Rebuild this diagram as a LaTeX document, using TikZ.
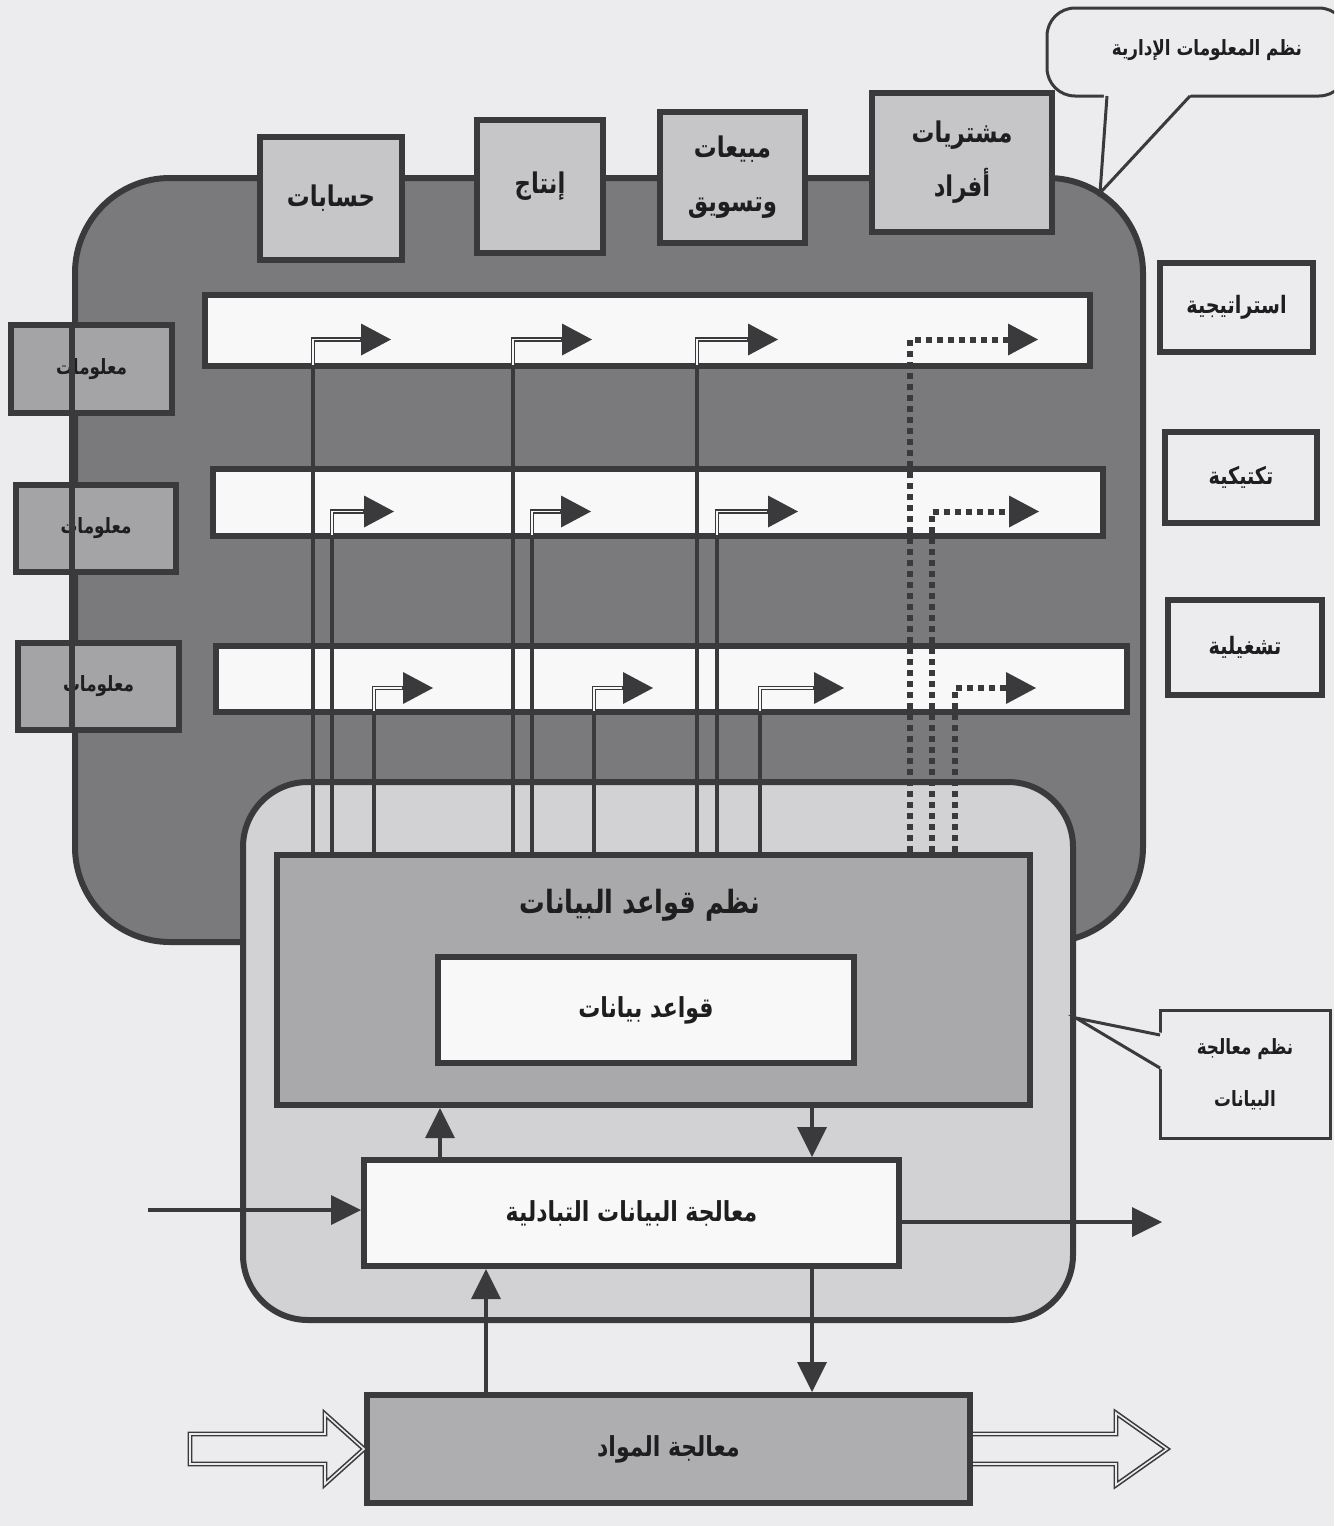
\documentclass[tikz,border=0pt]{standalone}
\usepackage{fontspec}
\TeXXeTstate=1
\newfontfamily\arabicfont[Script=Arabic,FakeStretch=0.8]{DejaVu Sans}
\usetikzlibrary{arrows.meta,calc}
\definecolor{bg}{HTML}{ECECEE}
\definecolor{lc}{HTML}{3A3A3C}
\definecolor{misfill}{HTML}{7A7A7C}
\definecolor{topfill}{HTML}{C6C6C8}
\definecolor{infofill}{HTML}{A4A4A6}
\definecolor{dpsfill}{HTML}{D2D2D4}
\definecolor{dbmsfill}{HTML}{A9A9AB}
\definecolor{matfill}{HTML}{AEAEB0}
\definecolor{wfill}{HTML}{F8F8F8}
\definecolor{tc}{HTML}{1E1E1E}
\newcommand{\artxt}[1]{\beginR#1\endR}
\newcommand{\myfTop}{\arabicfont\bfseries\fontsize{28.5pt}{54pt}\selectfont}
\newcommand{\myfInfo}{\arabicfont\bfseries\fontsize{21pt}{24pt}\selectfont}
\newcommand{\myfRight}{\arabicfont\bfseries\fontsize{24pt}{28pt}\selectfont}
\newcommand{\myfTitle}{\arabicfont\bfseries\fontsize{32pt}{36pt}\selectfont}
\newcommand{\myfMid}{\arabicfont\bfseries\fontsize{27.5pt}{30pt}\selectfont}
\newcommand{\myfCall}{\arabicfont\bfseries\fontsize{21pt}{52pt}\selectfont}
\newcommand{\miselbow}[5]{%
  \coordinate (c#1) at (#2,#3);
  \coordinate (t#1) at (#4,#3);
  \draw[arrowband] (c#1 |- dbms.north) -- (c#1) -- (t#1);
  \draw[core] ($(c#1 |- #5.south)+(0,-4)$) -- (c#1) -- ($(t#1)+(-31,0)$);
}
\newcommand{\misdot}[4]{%
  \coordinate (c#1) at (#2,#3);
  \coordinate (t#1) at (#4,#3);
  \draw[dotl] (c#1 |- dbms.north) -- (c#1) -- (t#1);
}
\begin{document}
\begin{tikzpicture}[x=1pt,y=-1pt,
  box/.style={draw=lc, line width=6pt, rectangle, inner sep=0pt, text=tc},
  rbox/.style={box, line width=6.5pt, fill=bg, font=\myfRight},
  callout/.style={draw=lc, line width=3pt, fill=bg, rectangle, inner sep=0pt, text=tc},
  calline/.style={draw=lc, line width=3pt},
  arr/.style={draw=lc, line width=4.5pt, -{Triangle[length=30pt,width=30pt,line width=0pt]}},
  arrowband/.style={draw=lc, line width=4.5pt, -{Triangle[length=30pt,width=32pt,line width=0pt]}},
  core/.style={draw=wfill, line width=1.6pt},
  dotl/.style={draw=lc, line width=6pt, dash pattern=on 6pt off 5pt, -{Triangle[length=30pt,width=32pt,line width=0pt]}},
  hollow/.style={draw=lc, line width=1.6pt, double=bg, double distance=1.6pt, line join=miter}
]
\useasboundingbox (0,0) rectangle (1334,1526);
\clip (0,0) rectangle (1334,1526);
\fill[bg] (0,0) rectangle (1334,1526);

% MIS body
\node[box, fill=misfill, rounded corners=95pt, minimum width=1068pt, minimum height=764pt] (mis) at (609,560) {};

% top functional boxes
\node[box, fill=topfill, minimum width=142pt, minimum height=123pt, font=\myfTop] (t1) at (331,198.5) {\artxt{حسابات}};
\node[box, fill=topfill, minimum width=126pt, minimum height=133pt, font=\myfTop] (t2) at (540,186.5) {\artxt{إنتاج}};
\node[box, fill=topfill, minimum width=145pt, minimum height=131pt, font=\myfTop, align=center] (t3) at (732.5,177.5) {\artxt{مبيعات}\\\artxt{وتسويق}};
\node[box, fill=topfill, minimum width=180pt, minimum height=139pt, font=\myfTop, align=center] (t4) at (962,162.5) {\artxt{مشتريات}\\\artxt{أفراد}};

% information boxes on the left
\node[box, fill=infofill, minimum width=161pt, minimum height=88pt, font=\myfInfo] (i1) at (91.5,369) {\artxt{معلومات}};
\node[box, fill=infofill, minimum width=160pt, minimum height=87pt, font=\myfInfo] (i2) at (96,528.5) {\artxt{معلومات}};
\node[box, fill=infofill, minimum width=161pt, minimum height=87pt, font=\myfInfo] (i3) at (98.5,686.5) {\artxt{معلومات}};
\draw[draw=lc, line width=6pt] (mis.west |- i1.north) -- (mis.west |- i3.south);

% level bands
\node[box, fill=wfill, minimum width=885pt, minimum height=71pt] (b1) at (647.5,330.5) {};
\node[box, fill=wfill, minimum width=890pt, minimum height=67pt] (b2) at (658,502.5) {};
\node[box, fill=wfill, minimum width=911pt, minimum height=66pt] (b3) at (671.5,679) {};

% data processing system
\node[box, fill=dpsfill, rounded corners=65pt, minimum width=830pt, minimum height=538pt] (dps) at (658,1051) {};
\node[box, fill=dbmsfill, minimum width=753pt, minimum height=250pt] (dbms) at (653.5,980) {};
\node[font=\myfTitle, text=tc] (dbmst) at (640,905) {\artxt{نظم قواعد البيانات}};
\node[box, fill=wfill, minimum width=416pt, minimum height=106pt, font=\myfMid] (db) at (646,1010) {\artxt{قواعد بيانات}};

% connectors to the bands
\miselbow{A1}{313}{339.5}{391}{b1}
\miselbow{B1}{513}{339.5}{592}{b1}
\miselbow{C1}{697}{339.5}{778}{b1}
\miselbow{A2}{332}{511.5}{394}{b2}
\miselbow{B2}{532}{511.5}{591}{b2}
\miselbow{C2}{717}{511.5}{798}{b2}
\miselbow{A3}{374}{688}{433}{b3}
\miselbow{B3}{594}{688}{653}{b3}
\miselbow{C3}{760}{688}{844}{b3}
\misdot{D1}{910}{339.5}{1038}
\misdot{D2}{932}{511.5}{1039}
\misdot{D3}{955}{688}{1036}

% transaction processing and materials
\node[box, fill=wfill, minimum width=535pt, minimum height=106pt, font=\myfMid] (tps) at (631.5,1213) {\artxt{معالجة البيانات التبادلية}};
\node[box, fill=matfill, minimum width=603pt, minimum height=108pt, font=\myfMid] (mat) at (668.5,1449) {\artxt{معالجة المواد}};

\coordinate (xu1) at (440,0);
\coordinate (xd1) at (812,0);
\coordinate (xu2) at (486,0);
\draw[arr] (xu1 |- tps.north) -- (xu1 |- dbms.south);
\draw[arr] (xd1 |- dbms.south) -- (xd1 |- tps.north);
\draw[arr] (xu2 |- mat.north) -- (xu2 |- tps.south);
\draw[arr] (xd1 |- tps.south) -- (xd1 |- mat.north);
\coordinate (inL) at (148,1210);
\draw[arr] (inL) -- (inL -| tps.west);
\coordinate (outR) at (1162,1222);
\draw[arr] (outR -| tps.east) -- (outR);

% hollow material arrows
\draw[hollow, fill=bg] (190,1434) -- (325,1434) -- (325,1414) -- (mat.west) -- (325,1484) -- (325,1464) -- (190,1464) -- cycle;
\coordinate (rA) at (973,1434);
\coordinate (rB) at (973,1464);
\draw[hollow] (rA) -- (1116,1434) -- (1116,1413) -- (1167,1449) -- (1116,1485) -- (1116,1464) -- (rB);

% level boxes on the right
\node[rbox, minimum width=153pt, minimum height=89pt] (r1) at (1236.5,307.5) {\artxt{استراتيجية}};
\node[rbox, minimum width=152pt, minimum height=91pt] (r2) at (1241,477.5) {\artxt{تكتيكية}};
\node[rbox, minimum width=154pt, minimum height=95pt] (r3) at (1245,647.5) {\artxt{تشغيلية}};

% callout: MIS
\node[callout, rounded corners=28pt, minimum width=300pt, minimum height=88pt] (c1) at (1197,52) {};
\node[font=\myfCall, text=tc] (c1t) at (1207,50) {\artxt{نظم المعلومات الإدارية}};
\coordinate (c1tip) at (1100,193);
\fill[bg] (1104,92) -- (c1tip) -- (1193,92) -- cycle;
\draw[calline] (1107,96) -- (c1tip) -- (1190,96);

% callout: data processing systems
\node[callout, minimum width=170pt, minimum height=128pt, align=center, font=\myfCall] (c2) at (1245,1074) {\artxt{نظم معالجة}\\\artxt{البيانات}};
\coordinate (c2y) at (0,1018);
\coordinate (c2tip) at (dps.east |- c2y);
\fill[bg] (1163,1033) -- (c2tip) -- (1163,1070) -- cycle;
\draw[calline] (1160,1035) -- (c2tip) -- (1160,1068);
\end{tikzpicture}
\end{document}
